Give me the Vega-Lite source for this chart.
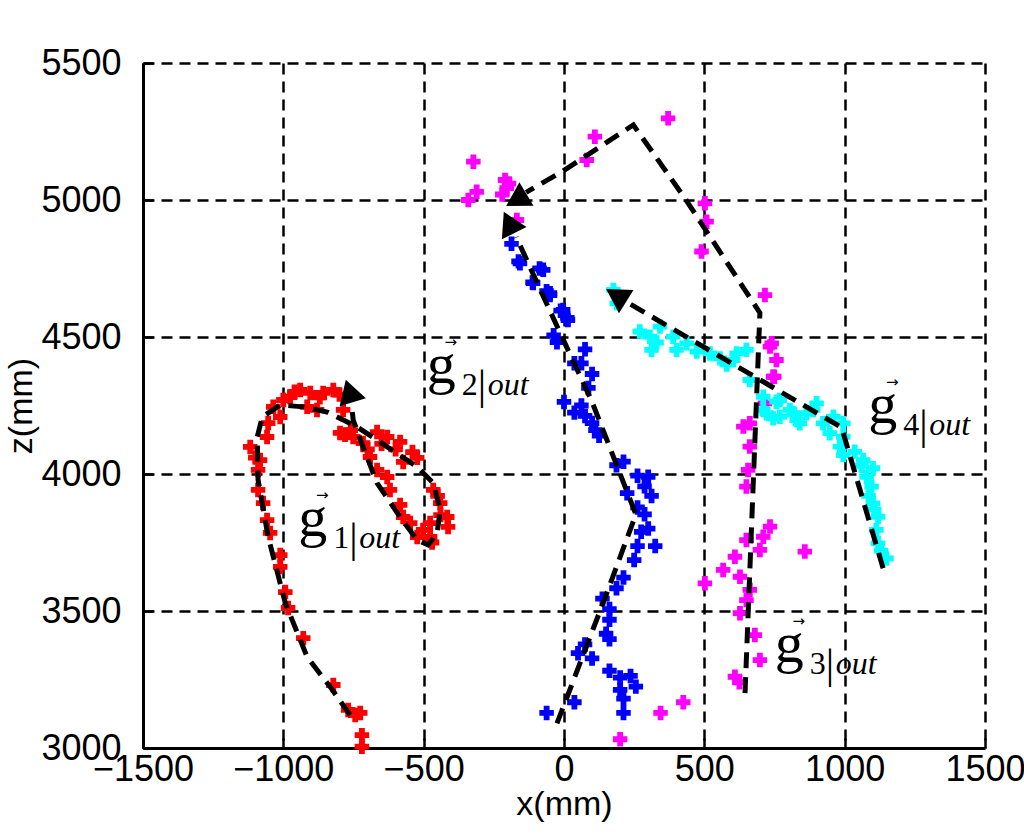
{
  "$schema": "https://vega.github.io/schema/vega-lite/v6.json",
  "width": 842,
  "height": 685,
  "autosize": "none",
  "padding": {"left": 143, "top": 63, "right": 39, "bottom": 89},
  "background": "white",
  "config": {"view": {"stroke": null}},
  "datasets": {
    "pts": [
      {"traj":"1","x":-720,"z":3005},{"traj":"1","x":-720,"z":3047},{"traj":"1","x":-744,"z":3120},{"traj":"1","x":-769,"z":3139},{"traj":"1","x":-726,"z":3128},{"traj":"1","x":-822,"z":3230},{"traj":"1","x":-929,"z":3401},{"traj":"1","x":-983,"z":3511},{"traj":"1","x":-993,"z":3569},{"traj":"1","x":-1011,"z":3661},{"traj":"1","x":-1011,"z":3704},{"traj":"1","x":-1047,"z":3785},{"traj":"1","x":-1058,"z":3832},{"traj":"1","x":-1072,"z":3894},{"traj":"1","x":-1090,"z":3942},{"traj":"1","x":-1090,"z":4015},{"traj":"1","x":-1083,"z":4051},{"traj":"1","x":-1118,"z":4099},{"traj":"1","x":-1100,"z":4060},{"traj":"1","x":-1058,"z":4135},{"traj":"1","x":-1054,"z":4186},{"traj":"1","x":-1036,"z":4245},{"traj":"1","x":-1011,"z":4208},{"traj":"1","x":-1000,"z":4270},{"traj":"1","x":-976,"z":4281},{"traj":"1","x":-960,"z":4300},{"traj":"1","x":-940,"z":4307},{"traj":"1","x":-904,"z":4296},{"traj":"1","x":-880,"z":4234},{"traj":"1","x":-870,"z":4280},{"traj":"1","x":-858,"z":4296},{"traj":"1","x":-822,"z":4307},{"traj":"1","x":-800,"z":4290},{"traj":"1","x":-915,"z":4245},{"traj":"1","x":-787,"z":4234},{"traj":"1","x":-798,"z":4150},{"traj":"1","x":-780,"z":4143},{"traj":"1","x":-760,"z":4160},{"traj":"1","x":-751,"z":4135},{"traj":"1","x":-716,"z":4113},{"traj":"1","x":-700,"z":4090},{"traj":"1","x":-666,"z":4153},{"traj":"1","x":-650,"z":4110},{"traj":"1","x":-630,"z":4135},{"traj":"1","x":-600,"z":4090},{"traj":"1","x":-584,"z":4117},{"traj":"1","x":-540,"z":4080},{"traj":"1","x":-523,"z":4059},{"traj":"1","x":-573,"z":4044},{"traj":"1","x":-691,"z":4062},{"traj":"1","x":-666,"z":4015},{"traj":"1","x":-630,"z":3989},{"traj":"1","x":-620,"z":3942},{"traj":"1","x":-584,"z":3887},{"traj":"1","x":-573,"z":3843},{"traj":"1","x":-548,"z":3821},{"traj":"1","x":-523,"z":3770},{"traj":"1","x":-502,"z":3796},{"traj":"1","x":-477,"z":3821},{"traj":"1","x":-470,"z":3750},{"traj":"1","x":-466,"z":3942},{"traj":"1","x":-450,"z":3920},{"traj":"1","x":-441,"z":3894},{"traj":"1","x":-440,"z":3850},{"traj":"1","x":-416,"z":3843},{"traj":"1","x":-413,"z":3807},{"traj":"1","x":-477,"z":3770},
      {"traj":"2","x":-62,"z":3128},{"traj":"2","x":37,"z":3167},{"traj":"2","x":212,"z":3128},{"traj":"2","x":212,"z":3180},{"traj":"2","x":200,"z":3212},{"traj":"2","x":256,"z":3224},{"traj":"2","x":237,"z":3263},{"traj":"2","x":200,"z":3257},{"traj":"2","x":162,"z":3282},{"traj":"2","x":100,"z":3327},{"traj":"2","x":50,"z":3346},{"traj":"2","x":75,"z":3378},{"traj":"2","x":162,"z":3397},{"traj":"2","x":150,"z":3417},{"traj":"2","x":162,"z":3468},{"traj":"2","x":162,"z":3507},{"traj":"2","x":137,"z":3545},{"traj":"2","x":187,"z":3583},{"traj":"2","x":212,"z":3622},{"traj":"2","x":250,"z":3686},{"traj":"2","x":262,"z":3737},{"traj":"2","x":275,"z":3789},{"traj":"2","x":325,"z":3737},{"traj":"2","x":300,"z":3801},{"traj":"2","x":287,"z":3853},{"traj":"2","x":262,"z":3878},{"traj":"2","x":225,"z":3930},{"traj":"2","x":312,"z":3920},{"traj":"2","x":287,"z":3955},{"traj":"2","x":300,"z":3990},{"traj":"2","x":262,"z":3994},{"traj":"2","x":212,"z":4045},{"traj":"2","x":187,"z":4032},{"traj":"2","x":125,"z":4140},{"traj":"2","x":112,"z":4160},{"traj":"2","x":100,"z":4186},{"traj":"2","x":75,"z":4212},{"traj":"2","x":37,"z":4224},{"traj":"2","x":0,"z":4263},{"traj":"2","x":62,"z":4250},{"traj":"2","x":87,"z":4314},{"traj":"2","x":100,"z":4365},{"traj":"2","x":62,"z":4404},{"traj":"2","x":37,"z":4404},{"traj":"2","x":75,"z":4455},{"traj":"2","x":-25,"z":4481},{"traj":"2","x":-37,"z":4506},{"traj":"2","x":12,"z":4570},{"traj":"2","x":14,"z":4562},{"traj":"2","x":-12,"z":4596},{"traj":"2","x":-3,"z":4599},{"traj":"2","x":-50,"z":4653},{"traj":"2","x":-62,"z":4667},{"traj":"2","x":-50,"z":4660},{"traj":"2","x":-110,"z":4697},{"traj":"2","x":-112,"z":4699},{"traj":"2","x":-74,"z":4745},{"traj":"2","x":-87,"z":4750},{"traj":"2","x":-157,"z":4769},{"traj":"2","x":-162,"z":4776},{"traj":"2","x":-187,"z":4840},
      {"traj":"3","x":371,"z":5298},{"traj":"3","x":110,"z":5231},{"traj":"3","x":81,"z":5146},{"traj":"3","x":-323,"z":5140},{"traj":"3","x":-210,"z":5073},{"traj":"3","x":-196,"z":5060},{"traj":"3","x":-204,"z":5043},{"traj":"3","x":-220,"z":5020},{"traj":"3","x":-311,"z":5030},{"traj":"3","x":-341,"z":5000},{"traj":"3","x":-168,"z":4927},{"traj":"3","x":502,"z":4988},{"traj":"3","x":508,"z":4921},{"traj":"3","x":490,"z":4812},{"traj":"3","x":716,"z":4653},{"traj":"3","x":740,"z":4477},{"traj":"3","x":734,"z":4465},{"traj":"3","x":757,"z":4416},{"traj":"3","x":745,"z":4355},{"traj":"3","x":749,"z":4355},{"traj":"3","x":716,"z":4258},{"traj":"3","x":662,"z":4185},{"traj":"3","x":639,"z":4173},{"traj":"3","x":662,"z":4100},{"traj":"3","x":656,"z":4015},{"traj":"3","x":650,"z":3954},{"traj":"3","x":734,"z":3808},{"traj":"3","x":710,"z":3771},{"traj":"3","x":650,"z":3759},{"traj":"3","x":698,"z":3723},{"traj":"3","x":609,"z":3698},{"traj":"3","x":567,"z":3650},{"traj":"3","x":627,"z":3625},{"traj":"3","x":662,"z":3577},{"traj":"3","x":650,"z":3540},{"traj":"3","x":502,"z":3601},{"traj":"3","x":627,"z":3492},{"traj":"3","x":680,"z":3412},{"traj":"3","x":698,"z":3321},{"traj":"3","x":609,"z":3260},{"traj":"3","x":625,"z":3240},{"traj":"3","x":858,"z":3717},{"traj":"3","x":200,"z":3032},{"traj":"3","x":344,"z":3128},{"traj":"3","x":425,"z":3167},
      {"traj":"4","x":1149,"z":3692},{"traj":"4","x":1130,"z":3720},{"traj":"4","x":1119,"z":3747},{"traj":"4","x":1113,"z":3796},{"traj":"4","x":1119,"z":3844},{"traj":"4","x":1105,"z":3870},{"traj":"4","x":1101,"z":3893},{"traj":"4","x":1085,"z":3920},{"traj":"4","x":1096,"z":3954},{"traj":"4","x":1078,"z":3990},{"traj":"4","x":1101,"z":4021},{"traj":"4","x":1060,"z":4030},{"traj":"4","x":1066,"z":4051},{"traj":"4","x":1036,"z":4081},{"traj":"4","x":995,"z":4069},{"traj":"4","x":983,"z":4100},{"traj":"4","x":995,"z":4136},{"traj":"4","x":995,"z":4185},{"traj":"4","x":960,"z":4209},{"traj":"4","x":947,"z":4149},{"traj":"4","x":923,"z":4185},{"traj":"4","x":900,"z":4258},{"traj":"4","x":888,"z":4234},{"traj":"4","x":864,"z":4222},{"traj":"4","x":840,"z":4185},{"traj":"4","x":829,"z":4197},{"traj":"4","x":817,"z":4222},{"traj":"4","x":805,"z":4234},{"traj":"4","x":769,"z":4209},{"traj":"4","x":769,"z":4270},{"traj":"4","x":757,"z":4264},{"traj":"4","x":745,"z":4203},{"traj":"4","x":722,"z":4222},{"traj":"4","x":710,"z":4234},{"traj":"4","x":710,"z":4282},{"traj":"4","x":662,"z":4343},{"traj":"4","x":650,"z":4453},{"traj":"4","x":615,"z":4440},{"traj":"4","x":603,"z":4416},{"traj":"4","x":580,"z":4400},{"traj":"4","x":556,"z":4422},{"traj":"4","x":520,"z":4440},{"traj":"4","x":473,"z":4447},{"traj":"4","x":437,"z":4477},{"traj":"4","x":401,"z":4453},{"traj":"4","x":389,"z":4501},{"traj":"4","x":342,"z":4538},{"traj":"4","x":330,"z":4480},{"traj":"4","x":312,"z":4453},{"traj":"4","x":306,"z":4501},{"traj":"4","x":270,"z":4520},{"traj":"4","x":188,"z":4623},{"traj":"4","x":176,"z":4672}
    ],
    "paths": [
      {"traj":"1","seq":1,"x":-762,"z":3120},{"traj":"1","seq":2,"x":-833,"z":3223},{"traj":"1","seq":3,"x":-915,"z":3332},{"traj":"1","seq":4,"x":-993,"z":3529},{"traj":"1","seq":5,"x":-1054,"z":3770},{"traj":"1","seq":6,"x":-1090,"z":3978},{"traj":"1","seq":7,"x":-1093,"z":4135},{"traj":"1","seq":8,"x":-1075,"z":4208},{"traj":"1","seq":9,"x":-1011,"z":4252},{"traj":"1","seq":10,"x":-929,"z":4245},{"traj":"1","seq":11,"x":-844,"z":4226},{"traj":"1","seq":12,"x":-737,"z":4172},{"traj":"1","seq":13,"x":-630,"z":4099},{"traj":"1","seq":14,"x":-523,"z":4026},{"traj":"1","seq":15,"x":-466,"z":3967},{"traj":"1","seq":16,"x":-441,"z":3869},{"traj":"1","seq":17,"x":-452,"z":3785},{"traj":"1","seq":18,"x":-484,"z":3741},{"traj":"1","seq":19,"x":-523,"z":3759},{"traj":"1","seq":20,"x":-584,"z":3843},{"traj":"1","seq":21,"x":-666,"z":3967},{"traj":"1","seq":22,"x":-716,"z":4099},{"traj":"1","seq":23,"x":-751,"z":4197},{"traj":"1","seq":24,"x":-757,"z":4250},
      {"traj":"2","seq":1,"x":-25,"z":3090},{"traj":"2","seq":2,"x":150,"z":3558},{"traj":"2","seq":3,"x":256,"z":3853},{"traj":"2","seq":4,"x":100,"z":4263},{"traj":"2","seq":5,"x":-62,"z":4622},{"traj":"2","seq":6,"x":-170,"z":4865},
      {"traj":"3","seq":1,"x":645,"z":3200},{"traj":"3","seq":2,"x":698,"z":4588},{"traj":"3","seq":3,"x":431,"z":5006},{"traj":"3","seq":4,"x":247,"z":5274},{"traj":"3","seq":5,"x":-8,"z":5103},{"traj":"3","seq":6,"x":-135,"z":5028},
      {"traj":"4","seq":1,"x":1137,"z":3656},{"traj":"4","seq":2,"x":989,"z":4170},{"traj":"4","seq":3,"x":226,"z":4626}
    ],
    "arrows": [
      {"traj":"1","x":-765,"z":4303,"heading":343},
      {"traj":"2","x":-196,"z":4918,"heading":334},
      {"traj":"3","x":-170,"z":5000,"heading":239},
      {"traj":"4","x":186,"z":4652,"heading":302}
    ],
    "labels": [
      {"traj":"1","idx":"1","x":-947,"z":3774},
      {"traj":"2","idx":"2","x":-489,"z":4331},
      {"traj":"3","idx":"3","x":751,"z":3315},
      {"traj":"4","idx":"4","x":1084,"z":4185}
    ]
  },
  "encoding": {
    "x": {
      "field": "x", "type": "quantitative",
      "scale": {"domain": [-1500, 1500], "nice": false, "zero": false},
      "axis": {
        "values": [-1500, -1000, -500, 0, 500, 1000, 1500], "format": "d",
        "title": "x(mm)", "titleFont": "Liberation Sans", "titleFontSize": 34, "titleFontWeight": "normal", "titleColor": "black", "titlePadding": 0,
        "labelFont": "Liberation Sans", "labelFontSize": 36, "labelColor": "black", "labelFlush": false, "labelOverlap": false, "labelPadding": 14,
        "grid": true, "gridColor": "black", "gridOpacity": 1, "gridWidth": 2.5, "gridDash": [11, 7],
        "domainColor": "black", "domainWidth": 3, "tickColor": "black", "tickWidth": 2.5, "tickSize": -10
      }
    },
    "y": {
      "field": "z", "type": "quantitative",
      "scale": {"domain": [3000, 5500], "nice": false, "zero": false},
      "axis": {
        "values": [3000, 3500, 4000, 4500, 5000, 5500], "format": "d",
        "title": "z(mm)", "titleFont": "Liberation Sans", "titleFontSize": 34, "titleFontWeight": "normal", "titleColor": "black", "titlePadding": 2,
        "labelFont": "Liberation Sans", "labelFontSize": 36, "labelColor": "black", "labelOverlap": false, "labelPadding": 32,
        "grid": true, "gridColor": "black", "gridOpacity": 1, "gridWidth": 2.5, "gridDash": [11, 7],
        "domainColor": "black", "domainWidth": 3, "tickColor": "black", "tickWidth": 2.5, "tickSize": -10
      }
    }
  },
  "layer": [
    {
      "data": {"name": "pts"},
      "mark": {"type": "point", "shape": "cross", "filled": true, "size": 210, "opacity": 1},
      "encoding": {
        "color": {"field": "traj", "type": "nominal", "scale": {"domain": ["1","2","3","4"], "range": ["#ff0000","#0000ff","#ff00ff","#00ffff"]}, "legend": null}
      }
    },
    {
      "data": {"name": "paths"},
      "mark": {"type": "line", "color": "black", "strokeWidth": 5, "strokeDash": [16, 9]},
      "encoding": {
        "detail": {"field": "traj"},
        "order": {"field": "seq", "type": "quantitative"}
      }
    },
    {
      "data": {"name": "arrows"},
      "mark": {"type": "point", "shape": "triangle-up", "filled": true, "color": "black", "size": 750, "opacity": 1},
      "encoding": {
        "angle": {"field": "heading", "type": "quantitative", "scale": null}
      }
    },
    {
      "data": {"name": "labels"},
      "mark": {"type": "text", "text": "g", "font": "Liberation Serif", "fontSize": 58, "align": "left", "baseline": "alphabetic", "color": "black"}
    },
    {
      "data": {"name": "labels"},
      "mark": {"type": "text", "font": "Liberation Serif", "fontSize": 32, "align": "left", "baseline": "alphabetic", "dx": 35, "dy": 12, "color": "black"},
      "encoding": {"text": {"field": "idx"}}
    },
    {
      "data": {"name": "labels"},
      "mark": {"type": "text", "text": "|", "font": "Liberation Serif", "fontSize": 42, "align": "left", "baseline": "alphabetic", "dx": 51, "dy": 16, "color": "black"}
    },
    {
      "data": {"name": "labels"},
      "mark": {"type": "text", "text": "out", "font": "Liberation Serif", "fontStyle": "italic", "fontSize": 32, "align": "left", "baseline": "alphabetic", "dx": 61, "dy": 12, "color": "black"}
    },
    {
      "data": {"name": "labels"},
      "mark": {"type": "text", "text": "→", "font": "DejaVu Sans", "fontSize": 15, "align": "center", "baseline": "alphabetic", "dx": 24, "dy": -36, "color": "black"}
    }
  ]
}
